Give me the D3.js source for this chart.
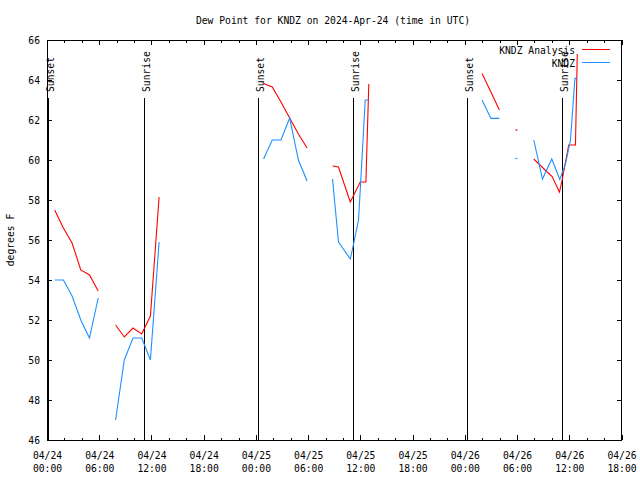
<!DOCTYPE html>
<html>
<head>
<meta charset="utf-8">
<script src="https://cdn.jsdelivr.net/npm/d3@7"></script>
<style>
  html, body { margin: 0; padding: 0; background: #fff; }
  svg { display: block; }
  text { font-family: "DejaVu Sans Mono", "Liberation Mono", monospace; font-size: 9.7px; fill: #000; }
</style>
</head>
<body>
<svg id="chart" width="640" height="480"></svg>
<script>
// ---- Data (hours after 2024-04-24 00:00 UTC; null = gap) ----
const chartTitle = "Dew Point for KNDZ on 2024-Apr-24 (time in UTC)";
const yLabel = "degrees F";
const seriesNames = ["KNDZ Analysis", "KNDZ"];
const seriesColors = ["#ff0000", "#1e90ff"];

const analysisHours = [0.88,1.88,2.88,3.88,4.88,5.88,null,7.88,8.88,9.88,10.88,11.88,12.88,null,
  24.88,25.88,26.88,27.88,28.88,29.88,null,32.80,33.49,34.84,35.99,36.64,36.72,36.97,null,
  49.98,51.0,51.97,null,53.93,null,55.92,57.46,58.03,58.87,59.18,59.94,60.71,60.92];
const analysisDew = [57.5,56.6,55.85,54.5,54.25,53.45,null,51.75,51.15,51.6,51.3,52.2,58.15,null,
  63.83,63.65,62.9,62.1,61.3,60.6,null,59.7,59.65,57.9,58.9,58.9,60.15,63.8,null,
  64.33,63.4,62.5,null,61.5,null,60.05,59.4,59.17,58.4,59.0,60.75,60.75,65.3];

const obsHours = [0.88,1.88,2.88,3.88,4.88,5.88,null,7.88,8.88,9.88,10.88,11.88,12.88,null,
  24.88,25.88,26.88,27.88,28.88,29.88,null,32.80,33.49,34.84,35.22,35.79,36.05,36.56,36.94,null,
  49.98,51.0,51.97,null,53.93,null,55.92,56.92,57.99,58.91,59.56,60.14,60.65,60.91];
const obsDew = [54.0,54.0,53.2,52.0,51.1,53.1,null,47.0,50.0,51.1,51.1,50.0,55.9,null,
  60.05,61.0,61.0,62.1,60.0,58.95,null,59.05,55.9,55.05,55.8,57.0,59.0,63.0,63.0,null,
  63.0,62.08,62.08,null,60.08,null,61.0,59.05,60.05,59.03,59.8,61.0,64.08,64.08];

const sunLabels = ["Sunset","Sunrise","Sunset","Sunrise","Sunset","Sunrise"];
const sunHours = [0.12, 11.19, 24.29, 35.22, 48.33, 59.26];

const yTicks = [46,48,50,52,54,56,58,60,62,64,66];
const startTime = "2024-04-24T00:00:00Z";
const endTime = "2024-04-26T18:00:00Z";

// ---- Chart ----
const svg = d3.select("#chart");
const margin = {left: 47, right: 18.5, top: 40, bottom: 40};
const W = 640, H = 480;
const t0 = new Date(startTime), t1 = new Date(endTime);
const toDate = h => new Date(t0.getTime() + h * 3600e3);

const x = d3.scaleUtc().domain([t0, t1]).range([margin.left, W - margin.right]);
const y = d3.scaleLinear().domain([46, 66]).range([H - margin.bottom, margin.top]);

svg.append("rect").attr("width", W).attr("height", H).attr("fill", "#fff");

const majorTicks = d3.utcHour.every(6).range(t0, new Date(t1.getTime() + 1));
const minorTicks = d3.utcHour.every(2).range(t0, t1).filter(d => d.getUTCHours() % 6 !== 0);

const g = svg.append("g").attr("shape-rendering", "crispEdges");

// bottom axis
const fmtD = d3.utcFormat("%m/%d"), fmtT = d3.utcFormat("%H:%M");
const gx = g.append("g").attr("transform", `translate(0,${y(46)})`)
  .call(d3.axisBottom(x).tickValues(majorTicks).tickSizeInner(-5).tickSizeOuter(0).tickFormat(""));
gx.select(".domain").remove();
gx.selectAll(".tick").each(function(d) {
  const t = d3.select(this).append("text").attr("text-anchor", "middle").attr("fill", "#000");
  t.append("tspan").attr("x", 0).attr("y", 19).text(fmtD(d));
  t.append("tspan").attr("x", 0).attr("y", 32).text(fmtT(d));
});
g.append("g").attr("transform", `translate(0,${y(46)})`)
  .call(d3.axisBottom(x).tickValues(minorTicks).tickSizeInner(-2.5).tickSizeOuter(0).tickFormat(""))
  .select(".domain").remove();
// top axis (mirror)
g.append("g").attr("transform", `translate(0,${y(66)})`)
  .call(d3.axisTop(x).tickValues(majorTicks).tickSizeInner(-5).tickSizeOuter(0).tickFormat(""))
  .select(".domain").remove();
g.append("g").attr("transform", `translate(0,${y(66)})`)
  .call(d3.axisTop(x).tickValues(minorTicks).tickSizeInner(-2.5).tickSizeOuter(0).tickFormat(""))
  .select(".domain").remove();
// left axis
const gy = g.append("g").attr("transform", `translate(${x(t0)},0)`)
  .call(d3.axisLeft(y).tickValues(yTicks).tickSizeInner(-5).tickSizeOuter(0).tickPadding(7).tickFormat(d3.format("d")));
gy.select(".domain").remove();
gy.selectAll(".tick text").attr("font-family", null).attr("font-size", null).attr("fill", "#000");
gx.attr("font-family", null).attr("font-size", null);
gy.attr("font-family", null).attr("font-size", null);
// right axis (mirror)
g.append("g").attr("transform", `translate(${x(t1)},0)`)
  .call(d3.axisRight(y).tickValues(yTicks).tickSizeInner(-5).tickSizeOuter(0).tickFormat(""))
  .select(".domain").remove();

// border
g.append("rect").attr("x", x(t0)).attr("y", y(66))
  .attr("width", x(t1) - x(t0)).attr("height", y(46) - y(66))
  .attr("fill", "none").attr("stroke", "#000").attr("stroke-width", 1);

// sunrise / sunset lines
sunHours.forEach((h, i) => {
  const xp = x(toDate(h));
  g.append("line").attr("x1", xp).attr("x2", xp).attr("y1", 98).attr("y2", y(46))
    .attr("stroke", "#000").attr("stroke-width", 1);
  svg.append("text").attr("transform", `translate(${xp + 5.5},92) rotate(-90)`)
    .attr("text-anchor", "start").text(sunLabels[i]);
});

// series
function segments(hours, vals) {
  const segs = []; let cur = [];
  hours.forEach((h, i) => {
    if (h === null || vals[i] === null) { if (cur.length) segs.push(cur); cur = []; }
    else cur.push([toDate(h), vals[i]]);
  });
  if (cur.length) segs.push(cur);
  return segs;
}
const line = d3.line().x(d => x(d[0])).y(d => y(d[1]));
const lineG = svg.append("g");
[[analysisHours, analysisDew], [obsHours, obsDew]].forEach(([hs, vs], si) => {
  segments(hs, vs).forEach(seg => {
    if (seg.length > 1) {
      lineG.append("path").attr("d", line(seg)).attr("fill", "none")
        .attr("stroke", seriesColors[si]).attr("stroke-width", 1.1);
    } else {
      lineG.append("rect").attr("x", x(seg[0][0]) - 1).attr("y", y(seg[0][1]) - 0.5)
        .attr("width", 2).attr("height", 1.2).attr("fill", seriesColors[si]);
    }
  });
});

// title and labels
svg.append("text").attr("x", 333).attr("y", 23.5).attr("text-anchor", "middle").text(chartTitle);
svg.append("text").attr("transform", "translate(13.5,240) rotate(-90)").attr("text-anchor", "middle").text(yLabel);

// legend
const legY = [50, 63];
seriesNames.forEach((name, i) => {
  svg.append("text").attr("x", 575).attr("y", legY[i] + 3.8).attr("text-anchor", "end").text(name);
  svg.append("line").attr("x1", 582).attr("x2", 610).attr("y1", legY[i] - 0.5).attr("y2", legY[i] - 0.5)
    .attr("stroke", seriesColors[i]).attr("stroke-width", 1.1).attr("shape-rendering", "crispEdges");
});
</script>
</body>
</html>
